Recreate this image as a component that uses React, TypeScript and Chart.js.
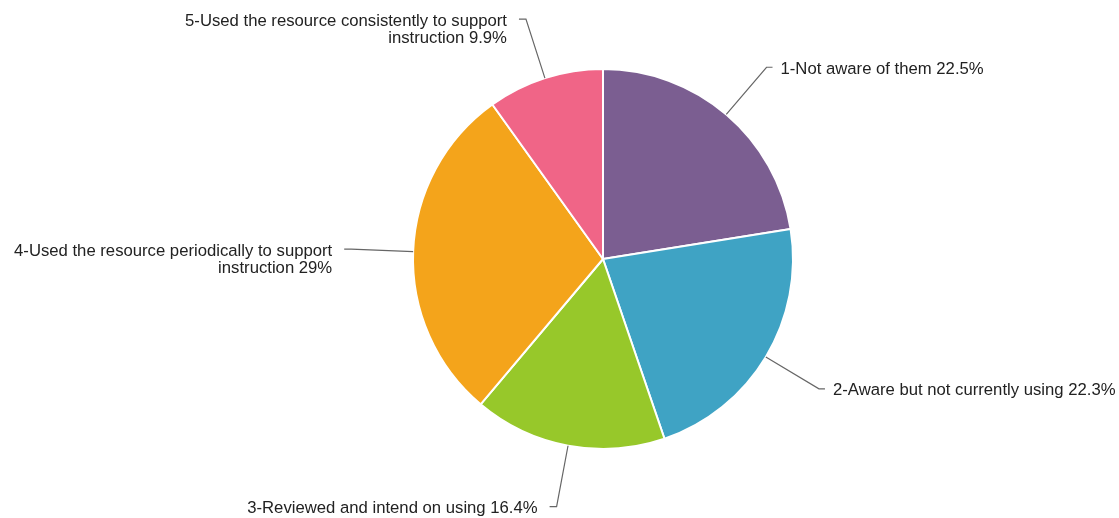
import React, { useEffect, useRef } from "react";
import { Chart, registerables } from "chart.js";

Chart.register(...registerables);

const categories = [
  "1-Not aware of them",
  "2-Aware but not currently using",
  "3-Reviewed and intend on using",
  "4-Used the resource periodically to support instruction",
  "5-Used the resource consistently to support instruction",
];
const values = [22.5, 22.3, 16.4, 29, 9.9];
const labelLines = [
  ["1-Not aware of them 22.5%"],
  ["2-Aware but not currently using 22.3%"],
  ["3-Reviewed and intend on using 16.4%"],
  ["4-Used the resource periodically to support", "instruction 29%"],
  ["5-Used the resource consistently to support", "instruction 9.9%"],
];
const colors = ["#7B5E91", "#3FA3C4", "#97C82A", "#F4A41B", "#F06587"];

const leaderPlugin = {
  id: "leaders",
  afterDraw(chart: any) {
    const ctx = chart.ctx;
    const meta = chart.getDatasetMeta(0);
    ctx.save();
    ctx.font = "16.7px 'Liberation Sans', Arial, sans-serif";
    ctx.textBaseline = "middle";
    meta.data.forEach((arc: any, i: number) => {
      const { x, y, startAngle, endAngle, outerRadius } = arc.getProps(
        ["x", "y", "startAngle", "endAngle", "outerRadius"],
        true
      );
      const mid = (startAngle + endAngle) / 2;
      const cos = Math.cos(mid);
      const sin = Math.sin(mid);
      const x0 = x + cos * outerRadius;
      const y0 = y + sin * outerRadius;
      const ext = 62;
      const x1 = x + cos * (outerRadius + ext);
      const y1 = y + sin * (outerRadius + ext);
      const right = cos >= 0;
      const x2 = x1 + (right ? 6 : -7);
      ctx.strokeStyle = "#666";
      ctx.lineWidth = 1.2;
      ctx.beginPath();
      ctx.moveTo(x0, y0);
      ctx.lineTo(x1, y1);
      ctx.lineTo(x2, y1);
      ctx.stroke();
      ctx.fillStyle = "#222";
      ctx.textAlign = right ? "left" : "right";
      const tx = x2 + (right ? 8 : -12);
      labelLines[i].forEach((line, j) => {
        ctx.fillText(line, tx, y1 + 2 + j * 17);
      });
    });
    ctx.restore();
  },
};

export default function App() {
  const ref = useRef<HTMLCanvasElement>(null);
  useEffect(() => {
    const chart = new Chart(ref.current!, {
      type: "pie",
      data: {
        labels: categories,
        datasets: [
          {
            data: values,
            backgroundColor: colors,
            borderColor: "#ffffff",
            borderWidth: 2,
          },
        ],
      },
      options: {
        responsive: false,
        animation: false,
        layout: { padding: { left: 412, right: 325, top: 68, bottom: 68 } },
        plugins: { legend: { display: false }, tooltip: { enabled: false } },
      },
      plugins: [leaderPlugin],
    });
    return () => chart.destroy();
  }, []);
  return (
    <div style={{ position: "absolute", left: 0, top: 0, width: 1119, height: 518, background: "#fff" }}>
      <canvas ref={ref} width={1119} height={518} />
    </div>
  );
}
